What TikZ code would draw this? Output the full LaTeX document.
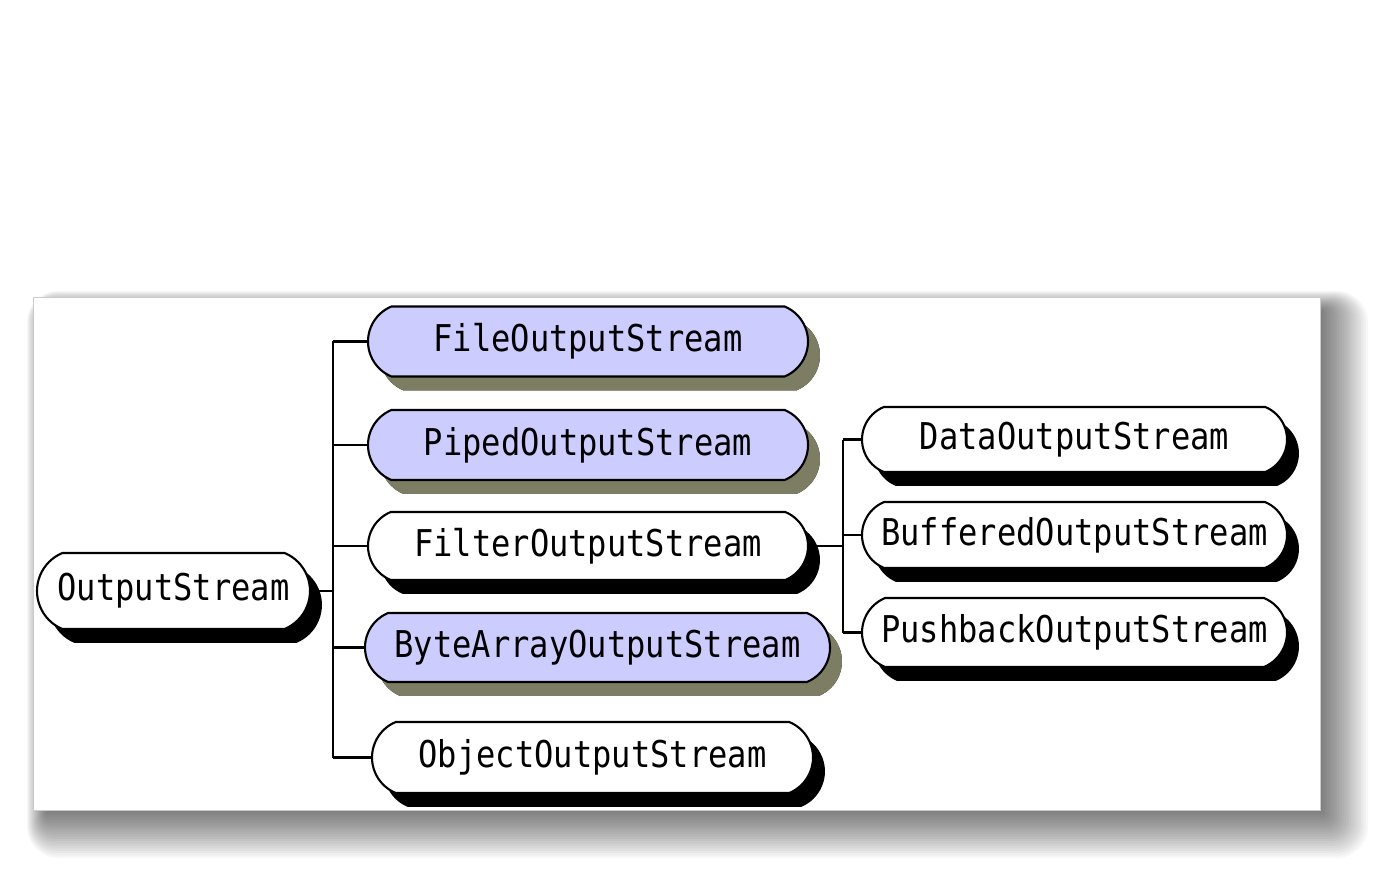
\documentclass[tikz,border=0pt]{standalone}
\usepackage{fontspec}
\newfontfamily\macfont[FakeStretch=0.87]{DejaVu Sans Mono}
\usetikzlibrary{shapes.misc,shadows}
\definecolor{clsblue}{RGB}{204,204,255}
\definecolor{clsolive}{RGB}{125,125,100}
\tikzset{
  cls/.style={rounded rectangle, rounded rectangle arc length=135, draw=black,
    line width=1.2pt, fill=white, inner sep=0pt, minimum height=#1,
    font=\macfont\fontsize{21}{24}\selectfont,
    drop shadow={shadow xshift=6.8pt, shadow yshift=-7.9pt, fill=black, opacity=1}},
  cls/.default=70,
  impl/.style={cls, fill=clsblue,
    drop shadow={shadow xshift=6.8pt, shadow yshift=-7.9pt, fill=clsolive, opacity=1}},
  link/.style={line width=1.2pt}
}
\begin{document}
\begin{tikzpicture}[x=0.02cm,y=-0.02cm]
\useasboundingbox[fill=white] (0,0) rectangle (1385,874);
% panel with a soft shadow
\foreach \i in {1,...,20}
  \fill[black, opacity=0.03, rounded corners=\i*0.9pt]
    (47-\i,311-\i) rectangle (1320+\i*2.4,810+\i*2.4);
\fill[white] (33,297) rectangle (1320,810);
\draw[gray!40, line width=0.5pt] (33,297) rectangle (1320,810);
% classes
\node[cls, minimum width=273*0.02cm, minimum height=76*0.02cm] (out) at (173.5,591) {OutputStream};
\node[impl, minimum width=440*0.02cm, minimum height=70*0.02cm] (file) at (588,341.5) {FileOutputStream};
\node[impl, minimum width=440*0.02cm, minimum height=70*0.02cm] (pipe) at (588,445) {PipedOutputStream};
\node[cls, minimum width=440*0.02cm, minimum height=68*0.02cm] (filt) at (588,546) {FilterOutputStream};
\node[impl, minimum width=465*0.02cm, minimum height=69*0.02cm] (bytes) at (597.5,647.5) {ByteArrayOutputStream};
\node[cls, minimum width=441*0.02cm, minimum height=71*0.02cm] (obj) at (592.5,757.5) {ObjectOutputStream};
\node[cls, minimum width=425*0.02cm, minimum height=65*0.02cm] (data) at (1074.5,439.5) {DataOutputStream};
\node[cls, minimum width=425*0.02cm, minimum height=66*0.02cm] (buf) at (1074.5,535) {BufferedOutputStream};
\node[cls, minimum width=425*0.02cm, minimum height=69*0.02cm] (push) at (1074.5,632.5) {PushbackOutputStream};
% connectors
\coordinate (ta) at (333,591);
\coordinate (tb) at (843,546);
\draw[link] (out.east) -- (ta);
\draw[link] (ta |- file.west) -- (ta |- obj.west);
\foreach \n in {file,pipe,filt,bytes,obj}
  \draw[link] (ta |- \n.west) -- (\n.west);
\draw[link] (filt.east) -- (tb);
\draw[link] (tb |- data.west) -- (tb |- push.west);
\foreach \n in {data,buf,push}
  \draw[link] (tb |- \n.west) -- (\n.west);
\end{tikzpicture}
\end{document}
